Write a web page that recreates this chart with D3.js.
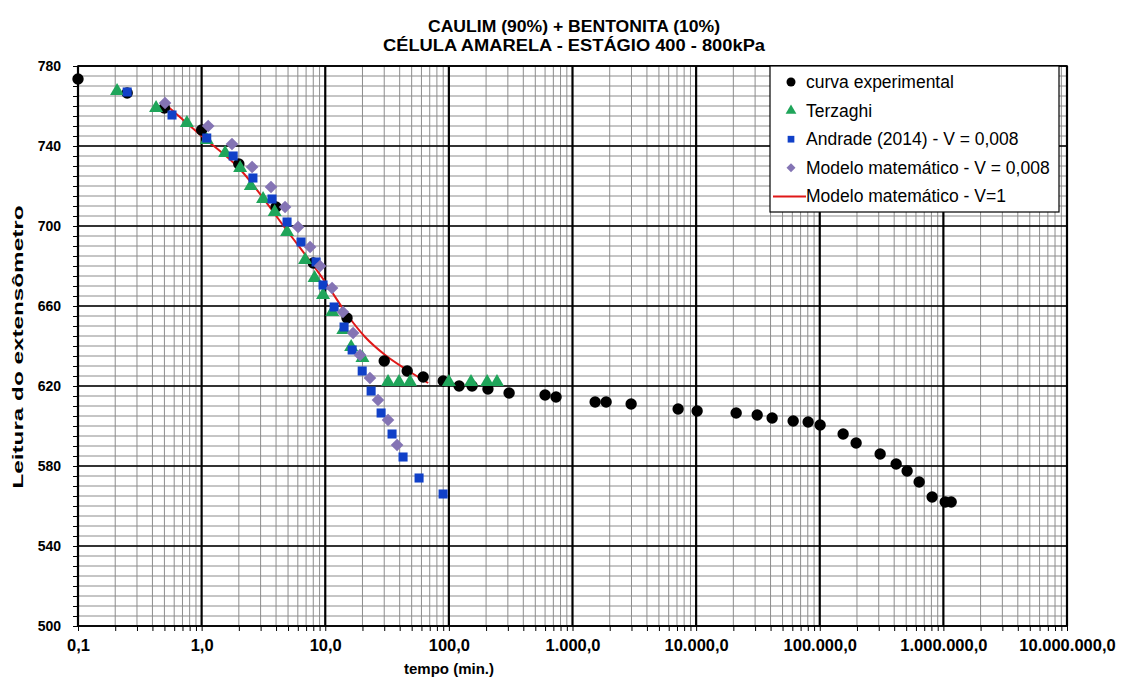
<!DOCTYPE html>
<html>
<head>
<meta charset="utf-8">
<script src="https://cdn.jsdelivr.net/npm/d3@7"></script>
<style>
  html, body { margin: 0; padding: 0; background: #fff; }
  svg { display: block; font-family: "Liberation Sans", Arial, sans-serif; }
</style>
</head>
<body>
<svg id="chart" width="1123" height="680"></svg>
<script>
// Time (min) and dial readings for each series
const tExp = [0.1, 0.25, 0.5, 1, 2, 4, 8, 15, 30, 46, 62, 90, 121, 154, 207, 307, 600, 736,
  1524, 1870, 2980, 7150, 10190, 21080, 31180, 41200, 60950, 80550, 100700, 154600, 196900,
  308000, 415000, 509000, 637000, 811000, 1035000, 1156000];
const vExp = [773.5, 766.5, 759, 748, 731, 709.5, 681.5, 654, 632.5, 627.5, 624.5, 622.5, 620, 620,
  618.5, 616.5, 615.5, 614.5, 612, 612, 611, 608.5, 607.5, 606.5, 605.5, 604, 602.5, 602, 600.5,
  596, 591.5, 586, 581, 577.5, 572, 564.5, 562, 562];

const tTerz = [0.207, 0.428, 0.76, 1.1, 1.55, 2.05, 2.5, 3.14, 3.9, 4.91, 6.87, 8.2, 9.6, 11.4, 14,
  16.2, 20, 32.2, 39.5, 48.5, 100, 151, 204, 245];
const vTerz = [767.5, 759, 751.5, 743, 736.5, 729, 720, 713.5, 707, 697, 683, 674, 665.5, 657, 648,
  639.5, 634, 622, 622, 622, 622, 622, 622, 622];

const tAndr = [0.25, 0.576, 1.1, 1.8, 2.6, 3.71, 4.91, 6.37, 8.43, 9.6, 11.8, 14.2, 16.5, 19.9, 23.5,
  28.3, 34.7, 42.6, 57.4, 89.8];
const vAndr = [767, 755.5, 744, 735, 724, 713.5, 702, 692, 682, 670.5, 659.5, 649.5, 638, 627.5, 617.5,
  606.5, 596, 584.5, 574, 566];

const tMod = [0.506, 1.13, 1.76, 2.56, 3.64, 4.73, 6.03, 7.54, 9.08, 11.35, 13.9, 16.8, 19.1, 23, 26.7,
  32.2, 38.1];
const vMod = [761.5, 750, 741, 729.5, 719.5, 709.5, 699.5, 689.5, 680, 669, 657, 646.5, 635.5, 624, 613,
  603, 590.5];

const tMod1 = [0.55, 1, 2, 5, 10, 15.3, 21, 30.5, 45.9, 68];
const vMod1 = [759, 745, 729, 697, 672, 655, 644.5, 635.5, 628, 621.5];

const xTicks = [0.1, 1, 10, 100, 1000, 10000, 100000, 1000000, 10000000];
const yTicks = [500, 540, 580, 620, 660, 700, 740, 780];

const titleLines = ["CAULIM (90%) + BENTONITA (10%)", "CÉLULA AMARELA - ESTÁGIO 400 - 800kPa"];
const legendLabels = ["curva experimental", "Terzaghi", "Andrade (2014) - V = 0,008",
  "Modelo matemático - V = 0,008", "Modelo matemático - V=1"];

const colors = { exp: "#000000", terz: "#1fa55a", andr: "#1040c8", mod: "#8474b4", mod1: "#e01818" };

const svg = d3.select("#chart");
const L = 78, R = 1067, T = 66, B = 626;

const x = d3.scaleLog().domain([0.1, 1e7]).range([L, R]);
const y = d3.scaleLinear().domain([500, 780]).range([B, T]);

const ptBR = d3.formatLocale({ decimal: ",", thousands: ".", grouping: [3], currency: ["R$", ""] });
const fmtX = ptBR.format(",.1f");

// Grid: minor log lines (2..9 per decade), minor horizontal every 5
const minorX = [];
for (let e = -1; e < 7; e++) for (let k = 2; k <= 9; k++) minorX.push(k * Math.pow(10, e));
const minorY = d3.range(500, 781, 5);

const grid = svg.append("g");
grid.selectAll("line.hmin").data(minorY).join("line")
  .attr("x1", L).attr("x2", R).attr("y1", d => y(d)).attr("y2", d => y(d))
  .attr("stroke", "#8c8c8c").attr("stroke-width", 1);
grid.selectAll("line.vmin").data(minorX).join("line")
  .attr("x1", d => x(d)).attr("x2", d => x(d)).attr("y1", T).attr("y2", B)
  .attr("stroke", "#8c8c8c").attr("stroke-width", 1);
grid.selectAll("line.hmaj").data(yTicks).join("line")
  .attr("x1", L).attr("x2", R).attr("y1", d => y(d)).attr("y2", d => y(d))
  .attr("stroke", "#000").attr("stroke-width", 1.6);
grid.selectAll("line.vmaj").data(xTicks).join("line")
  .attr("x1", d => x(d)).attr("x2", d => x(d)).attr("y1", T).attr("y2", B)
  .attr("stroke", "#000").attr("stroke-width", 2.2);

// Frame
svg.append("rect").attr("x", L).attr("y", T).attr("width", R - L).attr("height", B - T)
  .attr("fill", "none").attr("stroke", "#000").attr("stroke-width", 1.6);

// Axes
const xAxis = svg.append("g").attr("transform", `translate(0,${B})`)
  .call(d3.axisBottom(x).tickValues(xTicks.concat(minorX)).tickSize(5)
    .tickFormat(d => xTicks.includes(d) ? fmtX(d) : ""));
xAxis.select(".domain").remove();
xAxis.selectAll("text").attr("font-size", 16.5).attr("font-weight", "bold").attr("dy", "1em")
  .attr("font-family", "Liberation Sans, Arial, sans-serif");

const yAxis = svg.append("g").attr("transform", `translate(${L},0)`)
  .call(d3.axisLeft(y).tickValues(d3.range(500, 781, 5)).tickSize(5)
    .tickFormat(d => yTicks.includes(d) ? d : ""));
yAxis.select(".domain").remove();
yAxis.selectAll("text").attr("font-size", 14).attr("font-weight", "bold")
  .attr("font-family", "Liberation Sans, Arial, sans-serif").attr("x", -17);

// Titles
svg.selectAll("text.title").data(titleLines).join("text")
  .attr("x", 574).attr("y", (d, i) => 32 + i * 18.5).attr("text-anchor", "middle")
  .attr("font-size", 16).attr("font-weight", "bold")
  .attr("textLength", (d, i) => i === 0 ? 292 : 382).attr("lengthAdjust", "spacingAndGlyphs")
  .text(d => d);

svg.append("text").attr("x", 449).attr("y", 674).attr("text-anchor", "middle")
  .attr("font-size", 15).attr("font-weight", "bold").text("tempo (min.)");

svg.append("text").attr("transform", "translate(23,347) rotate(-90)").attr("text-anchor", "middle")
  .attr("font-size", 14.5).attr("font-weight", "bold")
  .attr("textLength", 283).attr("lengthAdjust", "spacingAndGlyphs")
  .text("Leitura do extensômetro");

// Series
const zip = (ts, vs) => ts.map((t, i) => ({ t, v: vs[i] }));

const line = d3.line().x(d => x(d.t)).y(d => y(d.v)).curve(d3.curveMonotoneX);
svg.append("path").datum(zip(tMod1, vMod1)).attr("d", line)
  .attr("fill", "none").attr("stroke", colors.mod1).attr("stroke-width", 2);

const symTri = d3.symbol().type(d3.symbolTriangle).size(85);
const symSq = d3.symbol().type(d3.symbolSquare).size(82);
const symDia = d3.symbol().type(d3.symbolSquare).size(80);

svg.append("g").selectAll("circle").data(zip(tExp, vExp)).join("circle")
  .attr("cx", d => x(d.t)).attr("cy", d => y(d.v)).attr("r", 5.7).attr("fill", colors.exp);

svg.append("g").selectAll("path").data(zip(tTerz, vTerz)).join("path")
  .attr("d", symTri).attr("transform", d => `translate(${x(d.t)},${y(d.v)})`).attr("fill", colors.terz);

svg.append("g").selectAll("path").data(zip(tAndr, vAndr)).join("path")
  .attr("d", symSq).attr("transform", d => `translate(${x(d.t)},${y(d.v)})`).attr("fill", colors.andr);

svg.append("g").selectAll("path").data(zip(tMod, vMod)).join("path")
  .attr("d", symDia).attr("transform", d => `translate(${x(d.t)},${y(d.v)}) rotate(45)`).attr("fill", colors.mod);

// Legend
const lg = svg.append("g");
lg.append("rect").attr("x", 770).attr("y", 66).attr("width", 289).attr("height", 146)
  .attr("fill", "#fff").attr("stroke", "#000").attr("stroke-width", 1.2);
const ly = i => 82 + i * 28.6;
lg.append("circle").attr("cx", 791).attr("cy", ly(0)).attr("r", 4.5).attr("fill", colors.exp);
lg.append("path").attr("d", d3.symbol().type(d3.symbolTriangle).size(50))
  .attr("transform", `translate(791,${ly(1)})`).attr("fill", colors.terz);
lg.append("path").attr("d", d3.symbol().type(d3.symbolSquare).size(45))
  .attr("transform", `translate(791,${ly(2)})`).attr("fill", colors.andr);
lg.append("path").attr("d", d3.symbol().type(d3.symbolSquare).size(40))
  .attr("transform", `translate(791,${ly(3)}) rotate(45)`).attr("fill", colors.mod);
lg.append("line").attr("x1", 773).attr("x2", 806).attr("y1", ly(4)).attr("y2", ly(4))
  .attr("stroke", colors.mod1).attr("stroke-width", 2);
lg.selectAll("text").data(legendLabels).join("text")
  .attr("x", 806).attr("y", (d, i) => ly(i) + 6).attr("font-size", 17.5).text(d => d);
</script>
</body>
</html>
